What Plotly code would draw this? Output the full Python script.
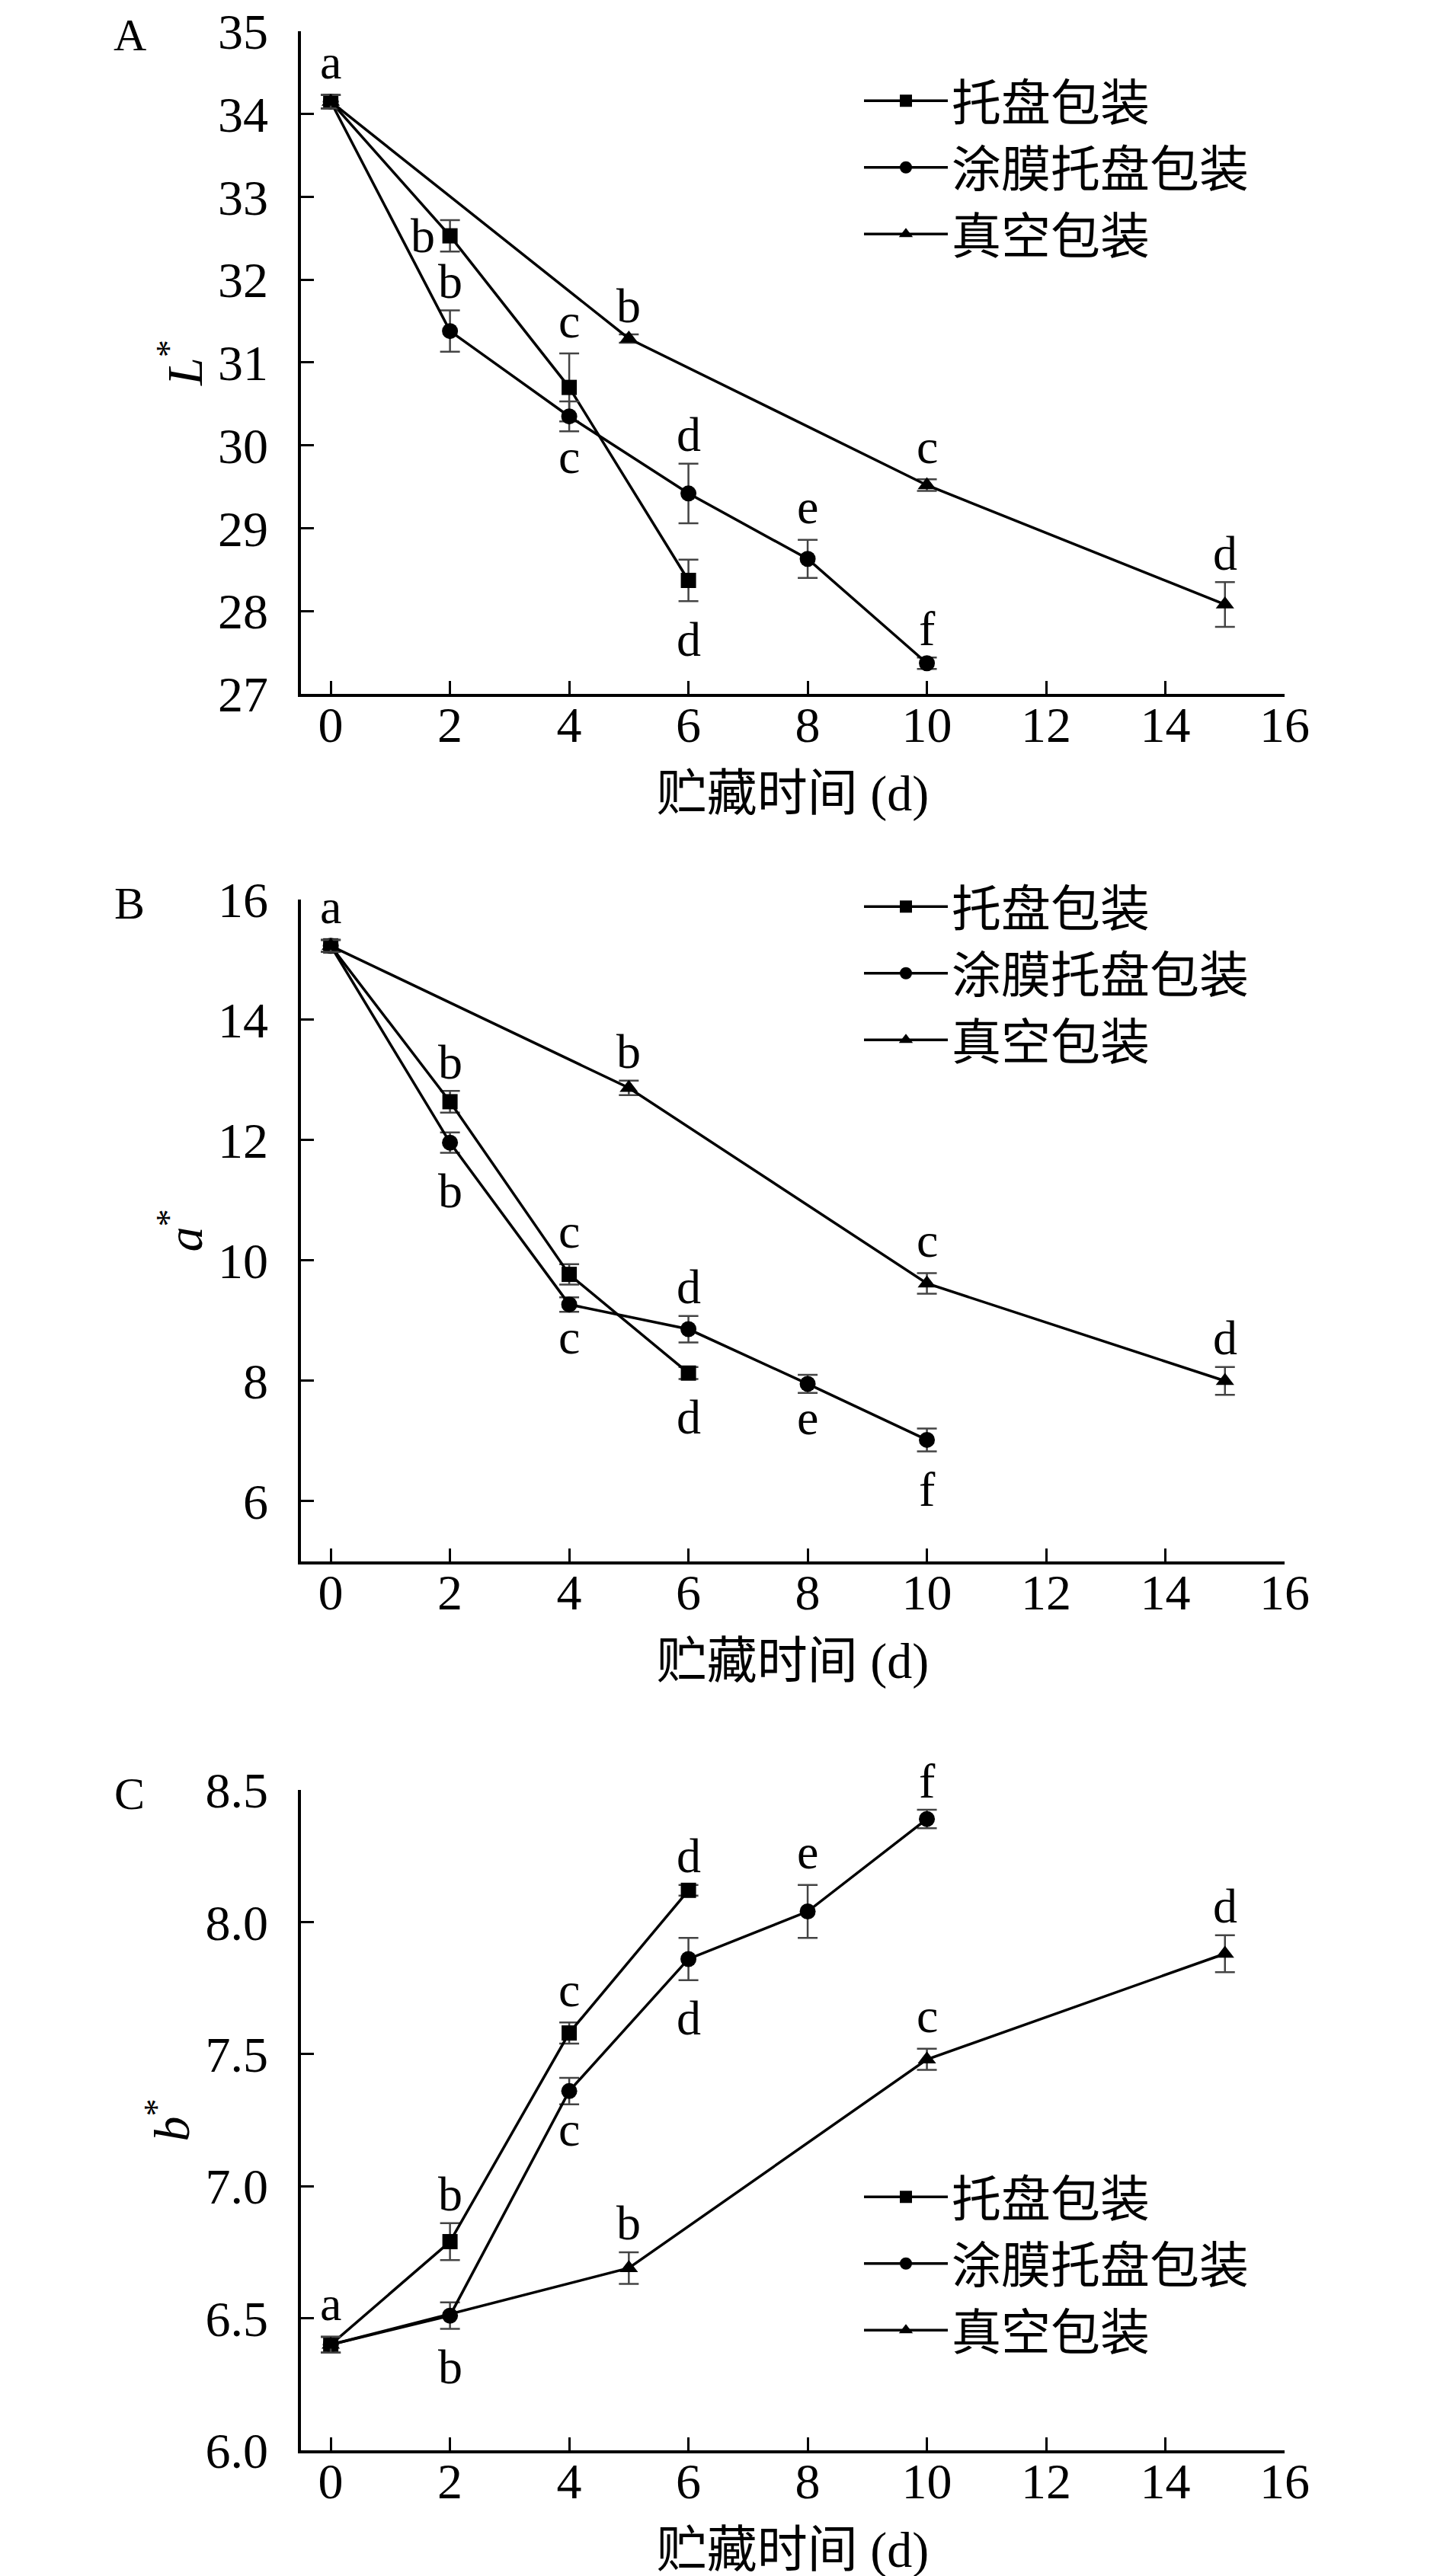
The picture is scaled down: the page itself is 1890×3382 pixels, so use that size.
import plotly.graph_objects as go

# ---------------- data ----------------
series_names = ["托盘包装", "涂膜托盘包装", "真空包装"]
days_tray = [0, 2, 4, 6]
days_coat = [0, 2, 4, 6, 8, 10]
days_vac = [0, 5, 10, 15]

# Panel A: L*
L_tray = [34.15, 32.53, 30.70, 28.37]
L_tray_err = [0.08, 0.19, 0.41, 0.25]
L_coat = [34.15, 31.38, 30.35, 29.42, 28.63, 27.37]
L_coat_err = [0.08, 0.25, 0.18, 0.36, 0.23, 0.07]
L_vac = [34.15, 31.29, 29.52, 28.08]
L_vac_err = [0.08, 0.05, 0.07, 0.27]
L_tray_sig = ["a", "b", "c", "d"]
L_coat_sig = ["", "b", "c", "d", "e", "f"]
L_vac_sig = ["", "b", "c", "d"]

# Panel B: a*
a_tray = [15.23, 12.64, 9.77, 8.13]
a_tray_err = [0.10, 0.18, 0.17, 0.10]
a_coat = [15.23, 11.96, 9.27, 8.86, 7.95, 7.02]
a_coat_err = [0.10, 0.17, 0.12, 0.22, 0.15, 0.19]
a_vac = [15.23, 12.87, 9.62, 8.00]
a_vac_err = [0.10, 0.12, 0.17, 0.23]
a_tray_sig = ["a", "b", "c", "d"]
a_coat_sig = ["", "b", "c", "d", "e", "f"]
a_vac_sig = ["", "b", "c", "d"]

# Panel C: b*
b_tray = [6.40, 6.79, 7.58, 8.12]
b_tray_err = [0.03, 0.07, 0.04, 0.02]
b_coat = [6.40, 6.51, 7.36, 7.86, 8.04, 8.39]
b_coat_err = [0.03, 0.05, 0.05, 0.08, 0.10, 0.035]
b_vac = [6.40, 6.69, 7.48, 7.88]
b_vac_err = [0.03, 0.06, 0.04, 0.07]
b_tray_sig = ["a", "b", "c", "d"]
b_coat_sig = ["", "b", "c", "d", "e", "f"]
b_vac_sig = ["", "b", "c", "d"]

x_ticks = [0, 2, 4, 6, 8, 10, 12, 14, 16]
x_title = "贮藏时间 (d)"

# placement of significance letters relative to each point (style only)
place = {
    "A": [["up", "left", "up", "down"],
          ["", "up", "down", "up", "up", "up"],
          ["", "up", "up", "up"]],
    "B": [["up", "up", "up", "down"],
          ["", "down", "down", "up", "down", "down"],
          ["", "up", "up", "up"]],
    "C": [["up", "up", "up", "up"],
          ["", "down", "down", "down", "up", "up"],
          ["", "up", "up", "up"]],
}

panels = [
    dict(tag="A", ytitle="<i>L</i><sup>*</sup>", yrange=[27, 35], dtick=1, fmt="",
         ys=[L_tray, L_coat, L_vac], es=[L_tray_err, L_coat_err, L_vac_err],
         sig=[L_tray_sig, L_coat_sig, L_vac_sig], dom=[0.73300, 0.99024],
         legy=1 - 212 / 3382),
    dict(tag="B", ytitle="<i>a</i><sup>*</sup>", yrange=[5, 16], dtick=2, fmt="",
         ys=[a_tray, a_coat, a_vac], es=[a_tray_err, a_coat_err, a_vac_err],
         sig=[a_tray_sig, a_coat_sig, a_vac_sig], dom=[0.39622, 0.65317],
         legy=1 - 1270 / 3382),
    dict(tag="C", ytitle="<i>b</i><sup>*</sup>", yrange=[6.0, 8.5], dtick=0.5, fmt=".1f",
         ys=[b_tray, b_coat, b_vac], es=[b_tray_err, b_coat_err, b_vac_err],
         sig=[b_tray_sig, b_coat_sig, b_vac_sig], dom=[0.05115, 0.30751],
         legy=1 - 2964 / 3382),
]

days = [days_tray, days_coat, days_vac]
symbols = ["square", "circle", "triangle-up"]
msizes = [20, 21, 21]

SERIF = "Liberation Serif, Times New Roman, Noto Sans CJK SC, serif"
TICK = dict(family=SERIF, size=66, color="black")
LET = dict(family=SERIF, size=64, color="black")
TITLE = dict(family=SERIF, size=66, color="black")
TAG = dict(family=SERIF, size=60, color="black")
TALL = set("bdf")

fig = go.Figure()
annotations = []
layout = dict(
    template="none",
    width=1890, height=3382, autosize=False,
    margin=dict(l=0, r=0, t=0, b=0, pad=0, autoexpand=False),
    paper_bgcolor="white", plot_bgcolor="white",
    font=TICK,
)

x_dom = [387 / 1890, 1678 / 1890]

for i, p in enumerate(panels):
    n = "" if i == 0 else str(i + 1)
    xa, ya = "x" + n, "y" + n
    leg = "legend" + n
    for k in range(3):
        fig.add_trace(go.Scatter(
            x=days[k], y=p["ys"][k], name=series_names[k],
            mode="lines+markers",
            line=dict(color="black", width=3.5),
            marker=dict(symbol=symbols[k], size=msizes[k], color="black"),
            error_y=dict(type="data", array=p["es"][k], color="#444",
                         thickness=2.5, width=13),
            xaxis=xa, yaxis=ya, legend=leg, legendgroup=f"{p['tag']}{k}",
        ))
        for j, lab in enumerate(p["sig"][k]):
            if not lab:
                continue
            pos = place[p["tag"]][k][j]
            v = p["ys"][k][j]
            e = p["es"][k][j]
            tall = lab in TALL
            if pos == "up":
                yv, ys, xs = v + e, (38 if tall else 43), 0
            elif pos == "down":
                yv, ys, xs = v - e, (-50 if tall else -33), 0
            else:
                yv, ys, xs = v, 0, -36
            annotations.append(dict(
                x=days[k][j], y=yv, xref=xa, yref=ya, text=lab,
                showarrow=False, xshift=xs, yshift=ys,
                xanchor="center", yanchor="middle", font=LET,
            ))
    # panel tag
    annotations.append(dict(
        x=162 / 1890, y=p["dom"][1] + 30 / 3382, xref="paper", yref="paper",
        text=p["tag"], showarrow=False, xanchor="center", yanchor="top", font=TAG,
    ))
    axis_common = dict(
        showline=True, linecolor="black", showgrid=False, zeroline=False,
        ticks="inside", ticklen=17, tickwidth=3, tickcolor="black",
        tickfont=TICK, mirror=False, automargin=False, ticklabeloverflow="allow",
    )
    layout["xaxis" + n] = dict(
        axis_common, domain=x_dom, range=[-0.5, 16], tickvals=x_ticks,
        linewidth=4, anchor=ya, ticklabelstandoff=-20,
        title=dict(text=x_title, font=TITLE, standoff=32),
    )
    layout["yaxis" + n] = dict(
        axis_common, domain=p["dom"], range=p["yrange"], dtick=p["dtick"],
        tick0=0, tickformat=p["fmt"], linewidth=3.5, anchor=xa,
        ticklabelstandoff=26,
        title=dict(text=p["ytitle"], font=TITLE, standoff=0),
    )
    layout[leg] = dict(
        x=1121 / 1890, y=p["legy"], xanchor="left", yanchor="middle",
        bgcolor="rgba(0,0,0,0)", borderwidth=0,
        font=dict(family="Noto Sans CJK SC", size=65, color="black"),
        itemwidth=110, tracegroupgap=0, traceorder="grouped",
    )

layout["annotations"] = annotations
layout["showlegend"] = True
fig.update_layout(**layout)
fig.write_html("out.html")
